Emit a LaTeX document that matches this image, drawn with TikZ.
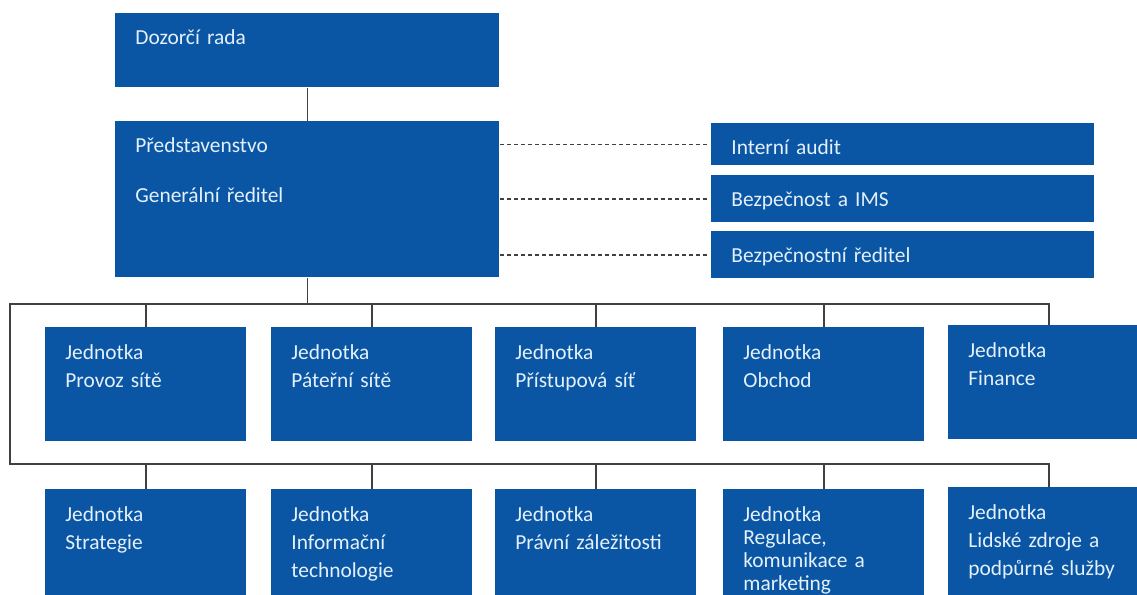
\documentclass[tikz,border=0pt]{standalone}
\usepackage{fontspec}
\setmainfont[WordSpace=0.75]{Carlito}
\usepackage{xcolor}
\usepackage{tikz}
\usetikzlibrary{calc}
\definecolor{orgblue}{RGB}{10,86,164}
\definecolor{orgtext}{RGB}{228,240,250}
\definecolor{orgline}{RGB}{64,64,64}
\tikzset{
  org_n/.style = {rectangle, fill=orgblue, text=orgtext, anchor=north west,
    inner xsep=10pt, inner ysep=0pt, align=left,
    font=\fontsize{10.7pt}{14pt}\selectfont},% bloc de base
  org_top/.style = {org_n, text width=172pt, text height=15.5pt},% vedeni
  org_side/.style = {org_n, text width=171.5pt, text height=15.5pt,
    text depth=8pt},% utvary mimo linii
  org_unit/.style = {org_n, text width=80.5pt, text height=16pt,
    text depth=41pt},% jednotky
  org_l/.style = {draw=orgline, line width=0.8pt},
  org_d/.style = {org_l, line width=0.9pt, dash pattern=on 2pt off 1.5pt}
}
\begin{document}
\begin{tikzpicture}[x=0.5pt, y=-0.5pt]
\useasboundingbox (0,0) rectangle (1137,595);

\node[org_top, text depth=21.5pt] (d1) at (115,13) {Dozorčí rada};
\node[org_top, text depth=62.5pt] (p1) at (115,121)
	{Představenstvo\\[11pt]Generální ředitel};

\node[org_side, text depth=5.5pt] (s1) at (711,123) {Interní audit};
\node[org_side] (s2) at (711,175) {Bezpečnost a IMS};
\node[org_side] (s3) at (711,231) {Bezpečnostní ředitel};

% prvni rada jednotek
\node[org_unit] (j1) at (45,327) {Jednotka\\Provoz sítě};
\node[org_unit] (j2) at (271,327) {Jednotka\\Páteřní sítě};
\node[org_unit] (j3) at (495,327) {Jednotka\\Přístupová síť};
\node[org_unit] (j4) at (723,327) {Jednotka\\Obchod};
\node[org_unit] (j5) at (948,325) {Jednotka\\Finance};

% druha rada jednotek
\node[org_unit] (j6) at (45,489) {Jednotka\\Strategie};
\node[org_unit] (j7) at (271,489) {Jednotka\\Informační\\technologie};
\node[org_unit] (j8) at (495,489) {Jednotka\\Právní záležitosti};
\node[org_unit, font=\fontsize{10.7pt}{11.5pt}\selectfont] (j9) at (723,489)
	{Jednotka\\Regulace,\\komunikace a\\marketing};
\node[org_unit] (j10) at (948,487) {Jednotka\\Lidské zdroje a\\podpůrné služby};

\coordinate (busT) at (10,304);
\coordinate (busB) at (10,464);

\draw[org_l] (d1.south) -- (p1.north);
\draw[org_l] (p1.south) -- (p1.south |- busT);
\draw[org_l] (j5.north) |- (busT) -- (busB) -| (j10.north);
\draw[org_l] (j1.north) -- (j1.north |- busT);
\draw[org_l] (j2.north) -- (j2.north |- busT);
\draw[org_l] (j3.north) -- (j3.north |- busT);
\draw[org_l] (j4.north) -- (j4.north |- busT);
\draw[org_l] (j6.north) -- (j6.north |- busB);
\draw[org_l] (j7.north) -- (j7.north |- busB);
\draw[org_l] (j8.north) -- (j8.north |- busB);
\draw[org_l] (j9.north) -- (j9.north |- busB);

\draw[org_d, shorten >=2pt] (s1.west -| p1.east) -- (s1.west);
\draw[org_d, shorten >=2pt] (s2.west -| p1.east) -- (s2.west);
\draw[org_d, shorten >=2pt] (s3.west -| p1.east) -- (s3.west);
\end{tikzpicture}
\end{document}
